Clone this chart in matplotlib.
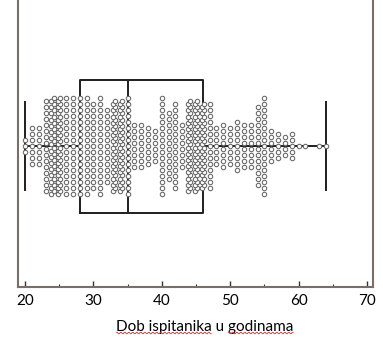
import numpy as np
import matplotlib
matplotlib.use("Agg")
import matplotlib.pyplot as plt

# dob ispitanika (godine) i broj ispitanika po dobi, procitano sa slike
ages = [20, 21, 22, 23, 24, 25, 26, 27, 28, 29, 30, 31, 32, 33, 34, 35, 36, 37, 38, 39,
        40, 41, 42, 43, 44, 45, 46, 47, 48, 49, 50, 51, 52, 53, 54, 55, 56, 57, 58, 59,
        60, 61, 63, 64]
counts = [3, 7, 7, 16, 32, 32, 17, 17, 17, 17, 15, 17, 13, 30, 30, 17, 8, 8, 7, 6,
          17, 12, 15, 8, 30, 30, 28, 15, 7, 8, 7, 9, 8, 8, 14, 17, 6, 5, 4, 5,
          1, 1, 1, 1]

# box plot statistika
q_min, q1, median, q3, q_max = 20, 28, 35, 46, 64

tick_vals = [20, 30, 40, 50, 60, 70]
xlabel = "Dob ispitanika u godinama"

plt.rcParams['font.family'] = ['Lato', 'DejaVu Sans']

fig = plt.figure(figsize=(3.83, 3.37), dpi=100)
ax = fig.add_axes([18.3 / 383, 50 / 337, (373 - 18.3) / 383, 287 / 337])

# y os u pikselima, sredina na 0
ax.set_xlim(19.0, 70.9)
ax.set_ylim(-141, 146)

stats = [dict(med=median, q1=q1, q3=q3, whislo=q_min, whishi=q_max, fliers=[])]
lprops = dict(color='#1e1e1e', linewidth=1.4)
ax.bxp(stats, positions=[0], widths=133, capwidths=88, vert=False,
       boxprops=lprops, whiskerprops=lprops, capprops=lprops, medianprops=lprops,
       showfliers=False, manage_ticks=False)

xs, ys = [], []
for a, n in zip(ages, counts):
    if n <= 17:
        y = (np.arange(n) - (n - 1) / 2) * 6.0
        x = np.full(n, float(a))
    else:
        y = (np.arange(n) - (n - 1) / 2) * 3.1
        x = a + np.where(np.arange(n) % 2 == 0, -0.17, 0.17)
    xs.extend(x)
    ys.extend(y)

ax.plot(xs, ys, 'o', ms=3.2, mfc='white', mec='#666666', mew=0.75, zorder=5, clip_on=False)

ax.set_yticks([])
ax.set_xticks(tick_vals)
ax.set_xticks(np.arange(25, 70, 10), minor=True)
ax.tick_params(axis='x', which='major', direction='in', length=4, width=1, colors='#333333',
               labelsize=11, pad=5, labelcolor='black')
ax.tick_params(axis='x', which='minor', direction='in', length=2, width=0.8, colors='#333333')

for s in ['left', 'right', 'bottom']:
    ax.spines[s].set_color('#7a6f66')
    ax.spines[s].set_linewidth(1.5)
ax.spines['top'].set_visible(False)

ax.set_xlabel(xlabel, fontsize=11, labelpad=6)
ax.xaxis.set_label_coords((205 - 18.3) / (373 - 18.3), -0.115)

# crvena valovita crta ispod rijeci (kao u izvorniku)
fig.canvas.draw()
r = fig.canvas.get_renderer()
lab = ax.xaxis.label
bb = lab.get_window_extent(r)
fp = lab.get_fontproperties()
def w(s):
    return r.get_text_width_height_descent(s, fp, ismath=False)[0]
yline = bb.y0 + 1
for start, word in [("", "Dob ispitanika"), ("Dob ispitanika u ", "godinama")]:
    x0 = bb.x0 + w(start) if start else bb.x0
    x1 = x0 + w(word)
    xx = np.arange(x0, x1, 1.0)
    yy = yline + 0.7 * np.where(np.arange(len(xx)) % 4 < 2, 1, -1)
    fig.add_artist(plt.Line2D(xx / fig.bbox.width, yy / fig.bbox.height,
                              color='#e03030', lw=0.6))

fig.savefig("out.png", dpi=100)
